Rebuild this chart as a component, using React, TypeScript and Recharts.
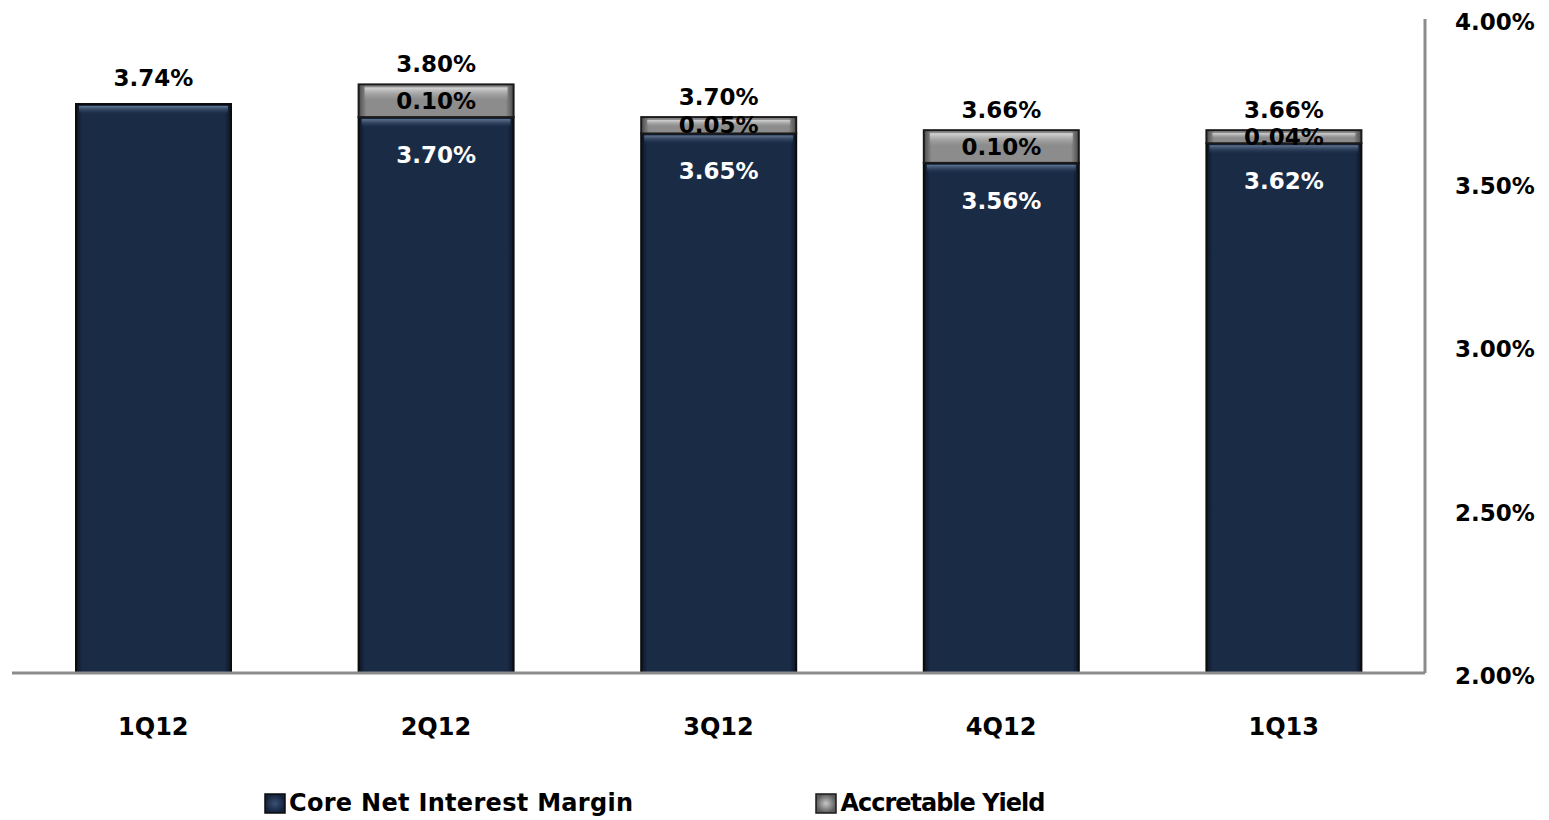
import React from 'react'
import { BarChart, Bar, XAxis, YAxis, Legend, LabelList } from 'recharts'

const quarters = ['1Q12', '2Q12', '3Q12', '4Q12', '1Q13']
const coreNim = [3.74, 3.7, 3.65, 3.56, 3.62]
const accretable = [0, 0.1, 0.05, 0.1, 0.04]
const totals = [3.74, 3.8, 3.7, 3.66, 3.66]
const yTicks = [2.0, 2.5, 3.0, 3.5, 4.0]

const data = quarters.map((q, i) => ({ q, core: coreNim[i], acc: accretable[i] }))

const FONT = '"DejaVu Sans", sans-serif'
const pct = (v: number) => v.toFixed(2) + '%'

function CoreShape(props: any) {
    const { x, y, width, height } = props
    if (!height || height <= 0) return null
    return (
        <g>
            <rect x={x} y={y} width={width} height={height} fill="url(#coreH)" stroke="#0b0b0b" strokeWidth={2} />
            <rect x={x + 3} y={y + 2} width={width - 6} height={Math.min(9, height - 3)} fill="url(#coreTop)" />
        </g>
    )
}

function AccShape(props: any) {
    const { x, y, width, height } = props
    if (!height || height <= 0.5) return null
    return (
        <g>
            <rect x={x} y={y} width={width} height={height} fill="url(#accH)" stroke="#1a1a1a" strokeWidth={2} />
            <rect x={x + 6} y={y + 3} width={width - 12} height={Math.max(2, height * 0.35)} fill="url(#accHi)" />
        </g>
    )
}

const coreLabel = (p: any) => {
    const { x, y, width, index } = p
    const cx = x + width / 2
    if (!accretable[index]) {
        return (
            <text x={cx} y={y - 26} textAnchor="middle" dominantBaseline="central" fontFamily={FONT} fontWeight="bold" fontSize={23} fill="#000">
                {pct(totals[index])}
            </text>
        )
    }
    return (
        <text x={cx} y={y + 38} textAnchor="middle" dominantBaseline="central" fontFamily={FONT} fontWeight="bold" fontSize={23} fill="#fff">
            {pct(coreNim[index])}
        </text>
    )
}

const accLabel = (p: any) => {
    const { x, y, width, height, index } = p
    if (!accretable[index]) return null
    const cx = x + width / 2
    return (
        <g>
            <text x={cx} y={y + height / 2} textAnchor="middle" dominantBaseline="central" fontFamily={FONT} fontWeight="bold" fontSize={23} fill="#000">
                {pct(accretable[index])}
            </text>
            <text x={cx} y={y - 20} textAnchor="middle" dominantBaseline="central" fontFamily={FONT} fontWeight="bold" fontSize={23} fill="#000">
                {pct(totals[index])}
            </text>
        </g>
    )
}

function LegendBox() {
    const item = (label: string, grad: string, stroke: string, spacing: number) => (
        <div style={{ display: 'flex', alignItems: 'center' }}>
            <svg width={23} height={21} style={{ marginRight: 2 }}>
                <rect x={1} y={1} width={20} height={19} fill={grad} stroke={stroke} strokeWidth={1.5} />
            </svg>
            <span style={{ letterSpacing: spacing }}>{label}</span>
        </div>
    )
    return (
        <div
            style={{
                height: 57,
                display: 'flex',
                justifyContent: 'flex-start',
                alignItems: 'flex-end',
                gap: 182,
                paddingLeft: 252,
                paddingBottom: 3,
                boxSizing: 'border-box',
                fontFamily: FONT,
                fontWeight: 'bold',
                fontSize: 24,
                color: '#000',
            }}
        >
            {item('Core Net Interest Margin', 'url(#legCore)', '#0b0b0b', 0.3)}
            {item('Accretable Yield', 'url(#legAcc)', '#1a1a1a', -1)}
            <svg width={0} height={0} style={{ position: 'absolute' }}>
                <defs>
                    <radialGradient id="legCore">
                        <stop offset="0" stopColor="#3a5275" />
                        <stop offset="1" stopColor="#14213a" />
                    </radialGradient>
                    <radialGradient id="legAcc">
                        <stop offset="0" stopColor="#c8c8c8" />
                        <stop offset="1" stopColor="#5a5a5a" />
                    </radialGradient>
                </defs>
            </svg>
        </div>
    )
}

export default function App() {
    return (
        <div style={{ position: 'absolute', left: 0, top: 0, width: 1549, height: 820, background: '#fff' }}>
            <BarChart width={1549} height={820} data={data} margin={{ top: 19, right: 0, left: 12, bottom: 0 }}>
                <defs>
                    <linearGradient id="coreH" x1="0" y1="0" x2="1" y2="0">
                        <stop offset="0" stopColor="#0c1524" />
                        <stop offset="0.04" stopColor="#1a2b46" />
                        <stop offset="0.96" stopColor="#1a2b46" />
                        <stop offset="1" stopColor="#0c1524" />
                    </linearGradient>
                    <linearGradient id="coreTop" x1="0" y1="0" x2="0" y2="1">
                        <stop offset="0" stopColor="#6a809c" stopOpacity={0.9} />
                        <stop offset="1" stopColor="#1a2b46" stopOpacity={0} />
                    </linearGradient>
                    <linearGradient id="accH" x1="0" y1="0" x2="1" y2="0">
                        <stop offset="0" stopColor="#4a4a4a" />
                        <stop offset="0.05" stopColor="#8c8c8c" />
                        <stop offset="0.95" stopColor="#8c8c8c" />
                        <stop offset="1" stopColor="#4a4a4a" />
                    </linearGradient>
                    <linearGradient id="accHi" x1="0" y1="0" x2="0" y2="1">
                        <stop offset="0" stopColor="#e0e0e0" stopOpacity={0.9} />
                        <stop offset="1" stopColor="#a0a0a0" stopOpacity={0.2} />
                    </linearGradient>
                </defs>
                <XAxis
                    dataKey="q"
                    height={90}
                    axisLine={{ stroke: '#8c8c8c', strokeWidth: 3 }}
                    tickLine={false}
                    tickMargin={39}
                    tick={{ fontFamily: FONT, fontWeight: 'bold', fontSize: 24, fill: '#000' }}
                />
                <YAxis
                    orientation="right"
                    width={124}
                    type="number"
                    domain={[2, 4]}
                    ticks={yTicks}
                    allowDataOverflow
                    axisLine={{ stroke: '#8c8c8c', strokeWidth: 3 }}
                    tickLine={false}
                    tickMargin={24}
                    tickFormatter={pct}
                    tick={{ fontFamily: FONT, fontWeight: 'bold', fontSize: 23, fill: '#000', dy: 3 }}
                />
                <Legend verticalAlign="bottom" height={57} content={() => <LegendBox />} />
                <Bar dataKey="core" stackId="a" barSize={155} shape={CoreShape} isAnimationActive={false}>
                    <LabelList dataKey="core" content={coreLabel} />
                </Bar>
                <Bar dataKey="acc" stackId="a" barSize={155} shape={AccShape} isAnimationActive={false}>
                    <LabelList dataKey="acc" content={accLabel} />
                </Bar>
            </BarChart>
        </div>
    )
}
